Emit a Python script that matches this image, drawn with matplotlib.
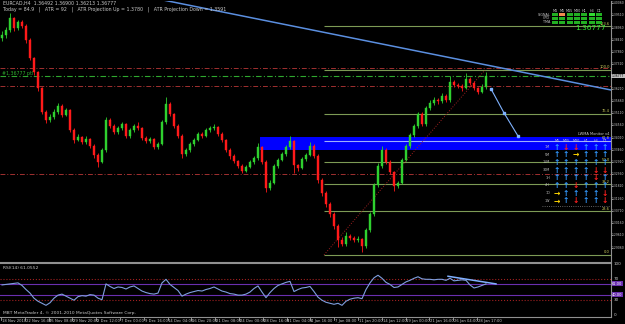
import numpy as np
import matplotlib
matplotlib.use("Agg")
import matplotlib.pyplot as plt
import matplotlib.transforms as mtransforms
from matplotlib.patches import Rectangle

W, H = 625, 324

# EURCAD H4 candles (opens follow the previous close)
first_open = 1.3850
close = [1.3862, 1.3885, 1.3939, 1.3894, 1.3921, 1.3903, 1.3840, 1.3759, 1.3696, 1.3624,
         1.3516, 1.3480, 1.3493, 1.3516, 1.3543, 1.3502, 1.3525, 1.3435, 1.3390, 1.3403,
         1.3381, 1.3394, 1.3363, 1.3322, 1.3291, 1.3345, 1.3480, 1.3453, 1.3426, 1.3444,
         1.3462, 1.3408, 1.3435, 1.3453, 1.3444, 1.3399, 1.3385, 1.3394, 1.3358, 1.3372,
         1.3471, 1.3552, 1.3507, 1.3453, 1.3408, 1.3327, 1.3345, 1.3372, 1.3390, 1.3417,
         1.3408, 1.3435, 1.3444, 1.3448, 1.3417, 1.3390, 1.3345, 1.3318, 1.3295, 1.3273,
         1.3250, 1.3268, 1.3291, 1.3309, 1.3358, 1.3291, 1.3174, 1.3196, 1.3273, 1.3300,
         1.3327, 1.3358, 1.3385, 1.3277, 1.3264, 1.3304, 1.3322, 1.3363, 1.3318, 1.3210,
         1.3151, 1.3102, 1.3057, 1.3003, 1.2940, 1.2922, 1.2958, 1.2949, 1.2940, 1.2944,
         1.2913, 1.2985, 1.3057, 1.3187, 1.3273, 1.3345, 1.3291, 1.3246, 1.3183, 1.3196,
         1.3300, 1.3363, 1.3412, 1.3453, 1.3507, 1.3462, 1.3534, 1.3556, 1.3570, 1.3565,
         1.3588, 1.3570, 1.3651, 1.3638, 1.3633, 1.3624, 1.3664, 1.3647, 1.3624, 1.3606,
         1.3628, 1.3678]
high = [1.3880, 1.3900, 1.3962, 1.3945, 1.3932, 1.3930, 1.3910, 1.3848, 1.3765, 1.3702,
        1.3630, 1.3525, 1.3505, 1.3528, 1.3556, 1.3550, 1.3536, 1.3530, 1.3442, 1.3415,
        1.3410, 1.3406, 1.3400, 1.3370, 1.3330, 1.3356, 1.3493, 1.3488, 1.3460, 1.3455,
        1.3472, 1.3468, 1.3446, 1.3464, 1.3471, 1.3450, 1.3406, 1.3404, 1.3400, 1.3382,
        1.3480, 1.3583, 1.3560, 1.3512, 1.3460, 1.3415, 1.3356, 1.3382, 1.3400, 1.3428,
        1.3426, 1.3446, 1.3455, 1.3462, 1.3455, 1.3424, 1.3396, 1.3352, 1.3325, 1.3302,
        1.3280, 1.3278, 1.3300, 1.3320, 1.3376, 1.3365, 1.3298, 1.3208, 1.3284, 1.3310,
        1.3338, 1.3368, 1.3408, 1.3392, 1.3284, 1.3315, 1.3332, 1.3381, 1.3370, 1.3325,
        1.3218, 1.3160, 1.3110, 1.3064, 1.3010, 1.2952, 1.2975, 1.2966, 1.2960, 1.2956,
        1.2950, 1.2995, 1.3068, 1.3198, 1.3285, 1.3363, 1.3352, 1.3298, 1.3252, 1.3206,
        1.3310, 1.3372, 1.3422, 1.3464, 1.3518, 1.3514, 1.3545, 1.3568, 1.3582, 1.3580,
        1.3600, 1.3596, 1.3680, 1.3660, 1.3648, 1.3642, 1.3690, 1.3672, 1.3654, 1.3630,
        1.3640, 1.3696]
low = [1.3835, 1.3850, 1.3878, 1.3880, 1.3886, 1.3892, 1.3828, 1.3748, 1.3684, 1.3610,
       1.3505, 1.3468, 1.3472, 1.3486, 1.3508, 1.3494, 1.3496, 1.3425, 1.3378, 1.3384,
       1.3372, 1.3374, 1.3352, 1.3310, 1.3268, 1.3285, 1.3338, 1.3444, 1.3415, 1.3418,
       1.3436, 1.3398, 1.3400, 1.3428, 1.3436, 1.3390, 1.3376, 1.3378, 1.3348, 1.3350,
       1.3366, 1.3464, 1.3498, 1.3444, 1.3398, 1.3309, 1.3320, 1.3338, 1.3364, 1.3384,
       1.3400, 1.3402, 1.3428, 1.3436, 1.3408, 1.3380, 1.3335, 1.3306, 1.3285, 1.3262,
       1.3241, 1.3244, 1.3262, 1.3284, 1.3302, 1.3282, 1.3156, 1.3165, 1.3190, 1.3266,
       1.3294, 1.3320, 1.3350, 1.3241, 1.3252, 1.3258, 1.3296, 1.3316, 1.3310, 1.3198,
       1.3140, 1.3090, 1.3045, 1.2990, 1.2908, 1.2912, 1.2915, 1.2940, 1.2930, 1.2932,
       1.2886, 1.2905, 1.2978, 1.3050, 1.3180, 1.3265, 1.3282, 1.3236, 1.3160, 1.3172,
       1.3190, 1.3294, 1.3356, 1.3404, 1.3446, 1.3452, 1.3455, 1.3526, 1.3548, 1.3554,
       1.3558, 1.3560, 1.3562, 1.3628, 1.3622, 1.3612, 1.3618, 1.3638, 1.3614, 1.3595,
       1.3600, 1.3620]

rsi = [59, 60, 61, 62, 63, 58, 50, 43, 33, 27, 23, 19, 24, 33, 39, 41, 37, 33, 29, 36,
       38, 37, 40, 39, 33, 30, 61, 56, 52, 55, 54, 51, 55, 57, 52, 47, 44, 42, 41, 43,
       63, 70, 60, 54, 48, 37, 41, 44, 46, 48, 47, 50, 52, 55, 51, 47, 45, 42, 41, 39,
       39, 41, 45, 52, 57, 45, 34, 44, 52, 58, 61, 64, 66, 46, 50, 53, 54, 56, 46, 35,
       29, 25, 23, 21, 23, 19, 27, 31, 33, 34, 32, 50, 63, 73, 78, 72, 64, 60, 54, 55,
       60, 65, 68, 72, 75, 71, 70, 70, 69, 70, 70, 68, 72, 67, 68, 69, 68, 59, 53, 55,
       58, 61]

time_labels = ["18 Nov 2010", "22 Nov 16:00", "25 Nov 08:00", "29 Nov 20:00", "2 Dec 12:00",
               "7 Dec 00:00", "9 Dec 16:00", "14 Dec 04:00", "16 Dec 20:00", "21 Dec 08:00",
               "24 Dec 00:00", "28 Dec 16:00", "31 Dec 04:00", "4 Jan 16:00", "7 Jan 08:00",
               "11 Jan 20:00", "14 Jan 12:00", "19 Jan 00:00", "21 Jan 16:00", "26 Jan 04:00",
               "28 Jan 17:00"]
label_step = 5.95

bid = 1.36777
red_levels = [1.3714, 1.3633, 1.3237]
fib_low, fib_high = 1.2873, 1.3705
fib_levels = [0.0, 23.6, 38.2, 50.0, 61.8, 76.4, 100.0, 123.6]
fib_start = 80.5
zone_start, zone_low, zone_high = 64.5, 1.3345, 1.3403
trend_x, trend_y = [40.25, 152.25], [1.4020, 1.3615]
proj_x, proj_y = [122.25, 125.5, 129.0], [1.3620, 1.3512, 1.3408]
rsi_red = [70, 30]
rsi_purple = [61, 40]
rsi_trend_x, rsi_trend_y = [111.5, 123.5], [76, 61]

sig_cols = ["M1", "M5", "M15", "M30", "H1", "H4", "D1"]
sig_rows = ["SIGNAL", "CPD", "TMA"]
sig_cells = ["gogggGg", "ggggggg", "ggggggg"]

arrow_cols = ["M5", "M15", "M30", "H1", "H4", "D1"]
arrow_rows = ["1M", "5M", "15M", "30M", "1H", "4H", "1D", "1W"]
arrow_grid = ["udduuu", "uuruuu", "uuuuuu", "uuuudd", "uuuudu", "uuduuu", "ruuuud", "ruduud"]

BG = "black"
GRAY = "#c8c8c8"
FIB = "#7d9a55"
FIBTXT = "#d0d060"
X0, X1 = -0.5, 152.25


def fx(x):
    return x / W


def fy(y):
    return 1 - y / H


fig = plt.figure(figsize=(W / 100, H / 100), dpi=100, facecolor=BG)

# ---- price panel ----
ax = fig.add_axes([0, fy(262), fx(611), (262 - 1) / H], facecolor=BG)
ax.set_xlim(X0, X1)
ax.set_ylim(1.4020 - 0.00045 * 262, 1.4020 - 0.00045 * 1)

o = np.r_[first_open, close[:-1]]
c = np.array(close)
x = np.arange(len(c))
cols = np.where(c >= o, "#2fd02f", "#ff1a1a")
ax.add_patch(Rectangle((zone_start, zone_low), X1 - zone_start, zone_high - zone_low,
                       color="#0000ff", lw=0, zorder=1))
ax.vlines(x, low, high, colors=cols, lw=0.6, zorder=3)
ax.bar(x, c - o, bottom=o, width=0.4, color=cols, edgecolor=cols, lw=0.3, zorder=3)

for p in red_levels:
    ax.axhline(p, color="#a03030", lw=0.7, ls=(0, (5, 2, 1, 2)), zorder=2)
ax.axhline(bid, color="#2fa82f", lw=0.8, ls=(0, (5, 2, 1, 2)), zorder=2)

for lvl in fib_levels:
    p = fib_low + (fib_high - fib_low) * lvl / 100
    colr = "#9fb0ff" if lvl == 61.8 else FIB
    ax.hlines(p, fib_start, X1, color=colr, lw=0.8, zorder=2)
    ax.text(152, p + 0.0003, f"{lvl:.1f}", ha="right", va="bottom", fontsize=2.6,
            color=FIBTXT, zorder=5)
ax.plot([fib_start, 120.75], [fib_low, fib_high], color="#a02020", ls=":", lw=0.7, zorder=2)

ax.plot(trend_x, trend_y, color="#5b8fe0", lw=1.1, zorder=4)
ax.plot(proj_x, proj_y, color="#7fb2ff", lw=0.8, marker="s", ms=1.6, zorder=4)

for s in ax.spines.values():
    s.set_visible(False)
ax.spines["right"].set_visible(True)
ax.spines["bottom"].set_visible(True)
ax.spines["right"].set_color("#909090")
ax.spines["bottom"].set_color("#909090")
ax.set_xticks([])
ax.set_yticks([])

# price scale on the right
tr = mtransforms.blended_transform_factory(ax.transAxes, ax.transData)
for p in np.arange(1.29060, 1.4010, 0.0055):
    ax.text(1.0015, p, f"{p:.5f}", transform=tr, fontsize=2.2, color=GRAY,
            va="center", ha="left", clip_on=False)
    ax.plot([1.0, 1.0015], [p, p], transform=tr, color=GRAY, lw=0.5, clip_on=False)
ax.text(1.0015, bid, f"{bid:.5f}", transform=tr, fontsize=2.2, color="black", va="center",
        ha="left", clip_on=False, zorder=6,
        bbox=dict(facecolor="#c0c0c0", edgecolor="none", pad=0.3))

# header texts
fig.text(fx(3), fy(3), "EURCAD,H4  1.36492 1.36900 1.36213 1.36777", fontsize=3.4,
         color=GRAY, va="center")
fig.text(fx(3), fy(9), "Today = 84.9   |   ATR = 92   |   ATR Projection Up = 1.3780   |   "
         "ATR Projection Down = 1.3591", fontsize=3.4, color=GRAY, va="center")
fig.text(fx(2), fy(74), "#1.36777 ptl", fontsize=3.4, color="#2fb02f", va="center")
fig.text(fx(590), fy(28), f"{bid:.5f}", fontsize=5.3, color="#33ee33", ha="center",
         va="center")

# signal table
for j, name in enumerate(sig_cols):
    fig.text(fx(555 + 7.3 * j), fy(11), name, fontsize=2.4, color=GRAY, ha="center",
             va="center")
for i, name in enumerate(sig_rows):
    yy = 13 + 3.8 * i
    fig.text(fx(550), fy(yy + 1.5), name, fontsize=2.4, color=GRAY, ha="right", va="center")
    for j, ch in enumerate(sig_cells[i]):
        colr = {"g": "#22b022", "G": "#33dd33", "o": "#f08a50"}[ch]
        fig.patches.append(Rectangle((fx(552 + 7.3 * j), fy(yy + 3)), 6 / W, 3 / H,
                                     transform=fig.transFigure, color=colr, lw=0))

# arrow monitor
fig.text(fx(609), fy(134), "LWMA Monitor v4", fontsize=2.6, color=GRAY, ha="right",
         va="center")
arr = {"u": ("\u2191", "#3399ff"), "d": ("\u2193", "#ff2020"), "r": ("\u2192", "#ffd700")}
col_x = [557, 566, 576, 586, 596, 605]
for j, name in enumerate(arrow_cols):
    fig.text(fx(col_x[j]), fy(141), name, fontsize=2.4, color=GRAY, ha="center", va="center")
for i, row in enumerate(arrow_grid):
    yy = 147 + 7.7 * i
    fig.text(fx(550), fy(yy), arrow_rows[i], fontsize=2.4, color=GRAY, ha="right",
             va="center")
    for j, ch in enumerate(row):
        g, colr = arr[ch]
        fig.text(fx(col_x[j]), fy(yy), g, fontsize=5.5, color=colr, ha="center", va="center",
                 fontweight="bold")
fig.lines.append(plt.Line2D([fx(542), fx(610)], [fy(206), fy(206)], transform=fig.transFigure,
                            color="#808080", lw=0.6, ls=":"))

# ---- RSI panel ----
rax = fig.add_axes([0, fy(317), fx(611), (317 - 263) / H], facecolor=BG)
rax.set_xlim(X0, X1)
rax.set_ylim(-3.9, 102)
for lv in rsi_red:
    rax.axhline(lv, color="#a02020", ls=":", lw=0.8)
for lv in rsi_purple:
    rax.axhline(lv, color="#6a2fb0", lw=0.8)
rax.plot(np.arange(len(rsi)), rsi, color="#7f9fdf", lw=0.8)
rax.plot(rsi_trend_x, rsi_trend_y, color="#80b0ff", lw=1.1)
for s in rax.spines.values():
    s.set_visible(False)
for k in ("right", "top", "bottom"):
    rax.spines[k].set_visible(True)
    rax.spines[k].set_color("#909090")
rax.set_xticks([])
rax.set_yticks([])

rtr = mtransforms.blended_transform_factory(rax.transAxes, rax.transData)
for lv in [100, 70, 30, 0]:
    rax.text(1.004, lv, str(lv), transform=rtr, fontsize=3, color=GRAY, va="center",
             ha="left", clip_on=False)
for lv in rsi_purple:
    rax.text(1.002, lv, f"{lv:.2f}", transform=rtr, fontsize=2.6, color="white",
             va="center", ha="left", clip_on=False,
             bbox=dict(facecolor="#6a2fb0", edgecolor="none", pad=0.4))
fig.text(fx(3), fy(268), "RSI(14) 61.0552", fontsize=3.2, color=GRAY, va="center")
fig.text(fx(3), fy(313), "MBT MetaTrader 4, \u00a9 2001-2010 MetaQuotes Software Corp.",
         fontsize=3.2, color=GRAY, va="center")

# time axis
ttr = mtransforms.blended_transform_factory(rax.transData, fig.transFigure)
for k, lab in enumerate(time_labels):
    xi = -0.25 + k * label_step
    rax.plot([xi, xi], [fy(317), fy(320)], transform=ttr, color=GRAY, lw=0.5, clip_on=False)
    rax.text(xi + 0.2, fy(321), lab, transform=ttr, fontsize=2.7, color=GRAY, va="center",
             ha="left", clip_on=False)

fig.savefig("out.png", dpi=100, facecolor=BG)
